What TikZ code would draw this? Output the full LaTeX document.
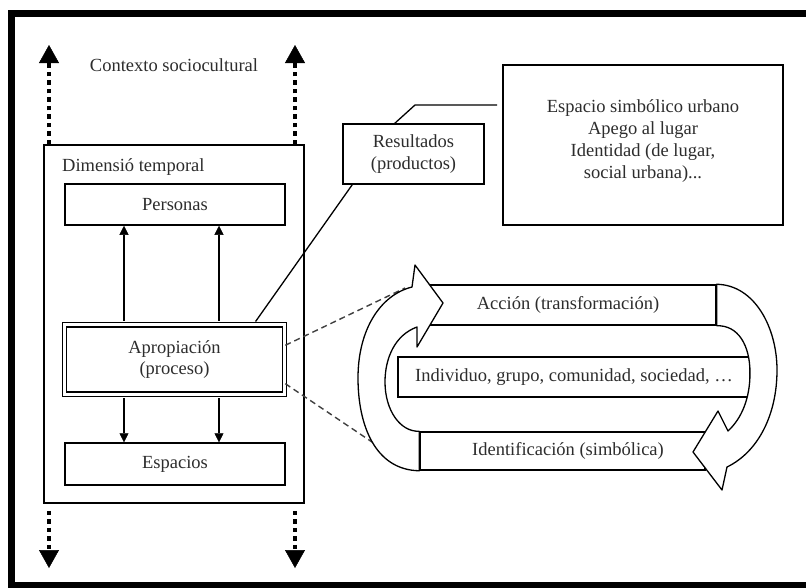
\documentclass[tikz,border=0pt]{standalone}
\usepackage{fontspec}
\setmainfont{Liberation Serif}
\usetikzlibrary{arrows.meta,calc}
\definecolor{txt}{RGB}{45,45,45}
\begin{document}
\begin{tikzpicture}[x=1pt,y=-1pt,
  box/.style={draw,line width=1.5pt,inner sep=0pt,font=\fontsize{18.5}{21.7}\selectfont,text=txt,align=center},
  lbl/.style={inner sep=0pt,font=\fontsize{18.5}{21.7}\selectfont,text=txt,align=center},
  dots/.style={line width=4.5pt,dash pattern=on 4.5pt off 4pt,-{Triangle[length=18pt,width=20pt,line width=0.5pt]}},
  smallarrow/.style={line width=1.3pt,shorten <=3pt,-{Triangle[length=9pt,width=9pt,line width=0.5pt]}},
  conn/.style={line width=1.3pt},
  dashline/.style={line width=1.4pt,dash pattern=on 6pt off 4pt,black!75},
  band/.style={draw,fill=white,line width=1.3pt,line join=round}]
\useasboundingbox (0,0) rectangle (806,587);
\fill[white] (0,0) rectangle (806,587);
\clip (0,0) rectangle (806,587);
% outer frame
\draw[line width=7pt] (11.5,13.5) rectangle (830,585);

% coordinates for free ends
\coordinate (ctl) at (49,45);
\coordinate (ctr) at (295,45);
\coordinate (cbl) at (49,568);
\coordinate (cbr) at (295,568);
\coordinate (c1) at (124,0);
\coordinate (c2) at (219,0);
\coordinate (rk) at (415,105);
\coordinate (rend) at (497,105);
\coordinate (dup) at (405,288);
\coordinate (ddn) at (372,442);

% left block
\node[lbl] (ctx) at (174,65) {Contexto sociocultural};
\node[box,minimum width=260pt,minimum height=358pt] (dim) at (174,324) {};
\node[lbl,anchor=west] (dimlbl) at (62,167) {Dimensió temporal};
\node[box,minimum width=220pt,minimum height=41pt] (pers) at (175,204.5) {Personas};
\node[box,double,double distance=2.6pt,line width=1.6pt,minimum width=220pt,minimum height=69.5pt] (aprop) at (174.5,359.5) {Apropiación\\(proceso)};
\node[box,minimum width=220pt,minimum height=42pt] (esp) at (175,464) {Espacios};

\draw[smallarrow] (aprop.north -| c1) -- (pers.south -| c1);
\draw[smallarrow] (aprop.north -| c2) -- (pers.south -| c2);
\draw[smallarrow] (aprop.south -| c1) -- (esp.north -| c1);
\draw[smallarrow] (aprop.south -| c2) -- (esp.north -| c2);

\draw[dots] (dim.north -| ctl) -- (ctl);
\draw[dots] (dim.north -| ctr) -- (ctr);
\draw[dots,shorten <=7pt] (dim.south -| cbl) -- (cbl);
\draw[dots,shorten <=7pt] (dim.south -| cbr) -- (cbr);

% results
\node[box,minimum width=141pt,minimum height=60pt] (res) at (413.5,154) {Resultados\\(productos)};
\node[box,minimum width=280pt,minimum height=160pt] (symb) at (643,145) {};
\node[lbl] (symbtxt) at (643,141) {Espacio simbólico urbano\\Apego al lugar\\Identidad (de lugar,\\social urbana)...};
\draw[conn] ($(res.north west)!0.369!(res.north east)$) -- (rk) -- (rend);
\draw[conn,shorten <=3pt] ($(aprop.north west)!0.858!(aprop.north east)$) -- ($(res.south west)!0.07!(res.south east)$);

% cycle
\node[box,minimum width=296pt,minimum height=40pt] (acc) at (568,305) {Acción (transformación)};
\node[box,minimum width=352pt,minimum height=40pt] (ind) at (574,377) {Individuo, grupo, comunidad, sociedad, …};
\node[box,minimum width=285pt,minimum height=38pt] (iden) at (562.5,451) {};
\node[lbl] (identxt) at (568,451) {Identificación (simbólica)};

\draw[dashline] ($(aprop.north east)!0.3!(aprop.south east)$) -- (dup);
\draw[dashline] ($(aprop.north east)!0.84!(aprop.south east)$) -- (ddn);

\draw[band] (iden.south west) .. controls (375,470) and (358,425) .. (358,378)
  .. controls (358,330) and (380,295) .. (412,287) -- (415,265) -- (443,303) -- (417,347) -- (417,327)
  .. controls (395,335) and (385,358) .. (385,382) .. controls (385,410) and (400,432) .. (iden.north west) -- cycle;

\draw[band] (acc.north east) .. controls (755,285) and (777,328) .. (777,370)
  .. controls (777,415) and (758,452) .. (727,467) -- (722,490) -- (693,452) -- (718,411) -- (728,431)
  .. controls (742,418) and (750,398) .. (750,373) .. controls (750,345) and (738,325) .. (acc.south east) -- cycle;
\end{tikzpicture}
\end{document}
